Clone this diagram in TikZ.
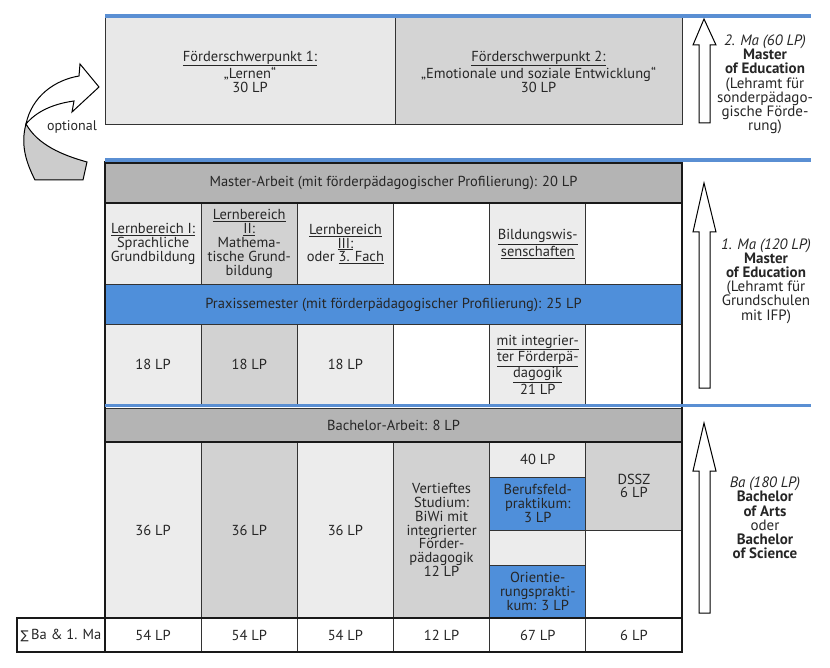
\documentclass[tikz,border=0pt]{standalone}
\usepackage{fontspec}
\setmainfont{PT Sans}
\newfontfamily\symf{DejaVu Sans}
\definecolor{bl}{HTML}{4F8FDA}
\definecolor{blline}{HTML}{5A8FD3}
\definecolor{grayrow}{HTML}{B4B4B4}
\definecolor{lightc}{HTML}{ECECEC}
\definecolor{midc}{HTML}{D2D2D2}
\definecolor{topl}{HTML}{E8E8E8}
\definecolor{topr}{HTML}{D4D4D4}
\definecolor{txt}{HTML}{262626}
\begin{document}
\begin{tikzpicture}[x=1pt,y=-1pt,
  cell/.style={draw=black!80, line width=1pt, inner sep=0pt, align=center, text=txt,
    font=\fontsize{14.5}{13.8}\selectfont},
  tight/.style={font=\fontsize{14.5}{12}\selectfont},
  lbl/.style={align=center, text=txt, inner sep=0pt, font=\fontsize{15}{14.2}\selectfont},
  blueline/.style={draw=blline, line width=3.6pt},
  blockarrow/.style={draw=black, fill=white, line width=1pt, line join=miter},
  colw/.style={minimum width=96.17pt}]
\useasboundingbox (0,0) rectangle (830,668);

% ---------- top block (2. Ma) ----------
\node[cell, fill=topl, minimum width=290pt, minimum height=107pt] (fs1) at (250,71.5)
  {\underline{Förderschwerpunkt 1:}\\„Lernen“\\30 LP};
\node[cell, fill=topr, minimum width=287pt, minimum height=107pt] (fs2) at (538.5,71.5)
  {\underline{Förderschwerpunkt 2:}\\„Emotionale und soziale Entwicklung“\\30 LP};
\draw[blueline] (105,16) -- (811,16);

% ---------- master block ----------
\node[cell, fill=grayrow, minimum width=577pt, minimum height=40pt] (ma) at (393.5,183)
  {Master-Arbeit (mit förderpädagogischer Profilierung): 20 LP};

\node[cell, colw, fill=lightc, minimum height=82pt] (r2c1) at (153.08,244)
  {\underline{Lernbereich I:}\\Sprachliche\\Grundbildung};
\node[cell, colw, fill=midc, minimum height=82pt] (r2c2) at (249.25,244)
  {\underline{Lernbereich}\\\underline{II:}\\Mathema-\\tische Grund-\\bildung};
\node[cell, colw, fill=lightc, minimum height=82pt] (r2c3) at (345.42,244)
  {\underline{Lernbereich}\\\underline{III:}\\oder \underline{3. Fach}};
\node[cell, colw, fill=white, minimum height=82pt] (r2c4) at (441.58,244) {};
\node[cell, colw, fill=lightc, minimum height=82pt] (r2c5) at (537.75,244)
  {\underline{Bildungswis-}\\\underline{senschaften}};
\node[cell, colw, fill=white, minimum height=82pt] (r2c6) at (633.92,244) {};

\node[cell, fill=bl, minimum width=577pt, minimum height=40pt] (px) at (393.5,305)
  {Praxissemester (mit förderpädagogischer Profilierung): 25 LP};

\node[cell, colw, fill=lightc, minimum height=79pt] (r4c1) at (153.08,364.5) {18 LP};
\node[cell, colw, fill=midc, minimum height=79pt] (r4c2) at (249.25,364.5) {18 LP};
\node[cell, colw, fill=lightc, minimum height=79pt] (r4c3) at (345.42,364.5) {18 LP};
\node[cell, colw, fill=white, minimum height=79pt] (r4c4) at (441.58,364.5) {};
\node[cell, colw, fill=lightc, minimum height=79pt, tight] (r4c5) at (537.75,364.5)
  {\underline{mit integrier-}\\\underline{ter Förderpä-}\\\underline{dagogik}\\21 LP};
\node[cell, colw, fill=white, minimum height=79pt] (r4c6) at (633.92,364.5) {};

% ---------- bachelor block ----------
\node[cell, fill=grayrow, minimum width=577pt, minimum height=34pt] (ba) at (393.5,425)
  {Bachelor-Arbeit: 8 LP};

\node[cell, colw, fill=lightc, minimum height=176pt] (r6c1) at (153.08,530) {36 LP};
\node[cell, colw, fill=midc, minimum height=176pt] (r6c2) at (249.25,530) {36 LP};
\node[cell, colw, fill=lightc, minimum height=176pt] (r6c3) at (345.42,530) {36 LP};
\node[cell, colw, fill=midc, minimum height=176pt] (r6c4) at (441.58,530)
  {Vertieftes\\Studium:\\BiWi mit\\integrierter\\Förder-\\pädagogik\\12 LP};
\node[cell, colw, fill=lightc, minimum height=35pt] (r6c5a) at (537.75,459.5) {40 LP};
\node[cell, colw, fill=bl, minimum height=53pt] (r6c5b) at (537.75,503.5)
  {Berufsfeld-\\praktikum:\\3 LP};
\node[cell, colw, fill=lightc, minimum height=35pt] (r6c5c) at (537.75,547.5) {};
\node[cell, colw, fill=bl, minimum height=53pt] (r6c5d) at (537.75,591.5)
  {Orientie-\\rungsprakti-\\kum: 3 LP};
\node[cell, colw, fill=midc, minimum height=88pt] (r6c6a) at (633.92,486) {DSSZ\\6 LP};
\node[cell, colw, fill=white, minimum height=88pt] (r6c6b) at (633.92,574) {};

% ---------- sum row ----------
\node[cell, fill=white, minimum width=88pt, minimum height=34pt] (sum) at (61,635)
  {{\symf\fontsize{12}{12}\selectfont ∑}\,Ba \& 1. Ma};
\node[cell, colw, fill=white, minimum height=34pt] (s1) at (153.08,635) {54 LP};
\node[cell, colw, fill=white, minimum height=34pt] (s2) at (249.25,635) {54 LP};
\node[cell, colw, fill=white, minimum height=34pt] (s3) at (345.42,635) {54 LP};
\node[cell, colw, fill=white, minimum height=34pt] (s4) at (441.58,635) {12 LP};
\node[cell, colw, fill=white, minimum height=34pt] (s5) at (537.75,635) {67 LP};
\node[cell, colw, fill=white, minimum height=34pt] (s6) at (633.92,635) {6 LP};

% thick outer frames
\draw[line width=2.4pt, black!90] (105,162.5) rectangle (682,652);
\draw[line width=2.4pt, black!90] (17,618) rectangle (105,652);
\draw[line width=2pt, black!90] (105,203) -- (682,203);
\draw[line width=2pt, black!90] (105,442) -- (682,442);
\draw[line width=2pt, black!90] (17,618) -- (682,618);

\draw[blueline] (105,160) -- (811,160);
\draw[blueline] (105,405.5) -- (811,405.5);

% ---------- right-hand arrows ----------
\draw[blockarrow] (704,19) -- (716,45) -- (710,45) -- (710,123) -- (699,123) -- (699,45) -- (693,45) -- cycle;
\draw[blockarrow] (704,183) -- (716,232) -- (710,232) -- (710,388) -- (699,388) -- (699,232) -- (693,232) -- cycle;
\draw[blockarrow] (704,423) -- (716,471) -- (710,471) -- (710,613) -- (699,613) -- (699,471) -- (693,471) -- cycle;

\node[lbl] (lab2) at (765,84.5)
  {\textit{2. Ma (60 LP)}\\\textbf{Master}\\\textbf{of Education}\\(Lehramt für\\sonderpädago-\\gische Förde-\\rung)};
\node[lbl] (lab1) at (766,281)
  {\textit{1. Ma (120 LP)}\\\textbf{Master}\\\textbf{of Education}\\(Lehramt für\\Grundschulen\\mit IFP)};
\node[lbl] (lab0) at (765,518)
  {\textit{Ba (180 LP)}\\\textbf{Bachelor}\\\textbf{of Arts}\\oder\\\textbf{Bachelor}\\\textbf{of Science}};

% ---------- optional curved arrow ----------
\draw[fill=black!20, line width=1pt] (26,124) .. controls (20,146) and (27,164) .. (35,180)
  -- (83,180) -- (87,162) .. controls (62,155) and (38,145) .. (26,124) -- cycle;
\draw[fill=white, line width=1pt, line join=miter] (26,124) .. controls (32,96) and (55,80) .. (79,76)
  -- (80,64) -- (99,87) -- (72,112) -- (74,101) .. controls (52,104) and (36,112) .. (26,124) -- cycle;
\node[lbl, font=\fontsize{14}{14}\selectfont] (opt) at (72,127) {optional};
\end{tikzpicture}
\end{document}
